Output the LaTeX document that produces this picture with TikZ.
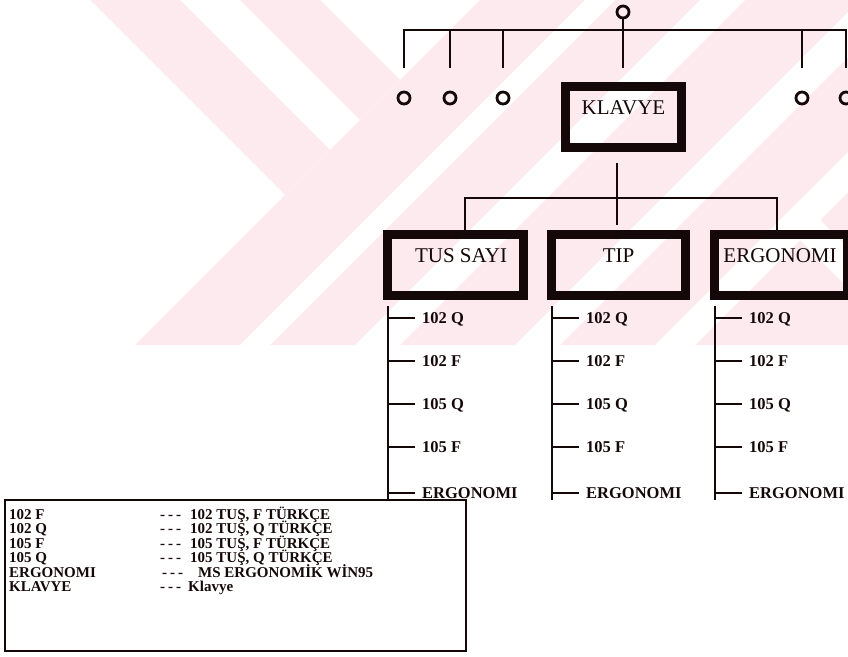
\documentclass[tikz,border=0pt]{standalone}
\usepackage{fontspec}
\setmainfont{Liberation Serif}
\definecolor{wm}{RGB}{252,234,238}
\definecolor{ink}{RGB}{20,8,8}
\begin{document}
\begin{tikzpicture}[x=1pt,y=-1pt,
  conn/.style={draw=ink,line width=2.6pt},
  ring/.style={circle,draw=ink,line width=2.8pt,minimum size=12pt,inner sep=0pt},
  thickbox/.style={draw=ink,line width=9pt,minimum height=61pt,inner sep=0pt},
  boxtext/.style={font=\fontsize{21}{21}\selectfont,inner sep=0pt,text=ink},
  item/.style={font=\fontsize{16.5}{16.5}\selectfont\bfseries,anchor=west,inner sep=0pt,text height=11pt,text depth=0pt,text=ink},
  legtext/.style={font=\fontsize{15}{15}\selectfont\bfseries,anchor=base west,inner sep=0pt,text=ink},
  legbox/.style={draw=ink,line width=1.8pt,inner sep=0pt}
]
\useasboundingbox (0,0) rectangle (848,656);
\begin{scope}
\clip (0,0) rectangle (848,656);
% watermark
\fill[wm] (480,0) -- (848,0) -- (848,345) -- (135,345) -- cycle;
\fill[wm] (90,0) -- (180,0) -- (330,150) -- (285,195) -- cycle;
\fill[wm] (240,0) -- (320,0) -- (400,80) -- (360,120) -- cycle;
\foreach \a/\b in {585/615,700/745,860/905,1000/1040}
  \fill[white] (\a,0) -- (\b,0) -- (\b-345,345) -- (\a-345,345) -- cycle;
\fill[white] (780,220) -- (800,200) -- (945,345) -- (905,345) -- cycle;

% top level
\node[ring] (c0) at (623,12) {};
\node[ring] (c1) at (404,98) {};
\node[ring] (c2) at (450,98) {};
\node[ring] (c3) at (503,98) {};
\node[ring] (c4) at (802,98) {};
\node[ring] (c5) at (846,98) {};
\coordinate (barY) at (0,30);
\coordinate (stubY) at (0,68);
\draw[conn] (c1 |- stubY) -- (c1 |- barY) -- (c5 |- barY) -- (c5 |- stubY);
\foreach \c in {c2,c3,c4}
  \draw[conn] (\c |- barY) -- (\c |- stubY);
\draw[conn] (c0.south) -- (c0 |- stubY);

\node[thickbox,minimum width=116pt] (klav) at (623.5,117) {};
\node[boxtext] (klavT) at (623.5,108) {KLAVYE};

% second level
\node[thickbox,minimum width=136pt] (tus) at (455.5,265) {};
\node[thickbox,minimum width=134pt] (tip) at (618.5,265) {};
\node[thickbox,minimum width=133pt] (erg) at (781,265) {};
\node[boxtext] (tusT) at (461,256) {TUS SAYI};
\node[boxtext] (tipT) at (618.5,256) {TIP};
\node[boxtext] (ergT) at (780,256) {ERGONOMI};

\coordinate (k1) at (617,163);
\coordinate (k2) at (617,225);
\draw[conn] (k1) -- (k2);
\coordinate (hl) at (465,198);
\coordinate (hr) at (777,198);
\draw[conn] (hl |- tus.north) -- (hl) -- (hr) -- (hr |- erg.north);

% lists
\foreach \n/\vx in {tus/388,tip/552,erg/715}{
  \coordinate (\n top) at (\vx,306);
  \coordinate (\n bot) at (\vx,500);
  \draw[conn] (\n top) -- (\n bot);
  \foreach \i/\y/\t in {1/318/102 Q,2/361/102 F,3/404/105 Q,4/447/105 F,5/493/ERGONOMI}{
    \node[item] (\n\i) at (\vx+34,\y) {\t};
    \draw[conn] (\n top |- \n\i.west) -- ([xshift=-7pt]\n\i.west);
  }
}

% legend
\node[legbox,minimum width=461.2pt,minimum height=151.2pt] (leg) at (235.5,575.5) {};
\node[legtext] (l1) at (9,519) {102 F};
\node[legtext] (l2) at (9,533.5) {102 Q};
\node[legtext] (l3) at (9,548) {105 F};
\node[legtext] (l4) at (9,562.5) {105 Q};
\node[legtext] (l5) at (9,577) {ERGONOMI};
\node[legtext] (l6) at (9,591.5) {KLAVYE};
\node[legtext] (d1) at (160,519) {-\hspace{3pt}-\hspace{3pt}-};
\node[legtext] (d2) at (160,533.5) {-\hspace{3pt}-\hspace{3pt}-};
\node[legtext] (d3) at (160,548) {-\hspace{3pt}-\hspace{3pt}-};
\node[legtext] (d4) at (160,562.5) {-\hspace{3pt}-\hspace{3pt}-};
\node[legtext] (d5) at (162,577) {-\hspace{3pt}-\hspace{3pt}-};
\node[legtext] (d6) at (160,591.5) {-\hspace{3pt}-\hspace{3pt}-};
\node[legtext] (r1) at (190,519) {102 TUŞ, F TÜRKÇE};
\node[legtext] (r2) at (190,533.5) {102 TUŞ, Q TÜRKÇE};
\node[legtext] (r3) at (190,548) {105 TUŞ, F TÜRKÇE};
\node[legtext] (r4) at (190,562.5) {105 TUŞ, Q TÜRKÇE};
\node[legtext] (r5) at (198,577) {MS ERGONOMİK WİN95};
\node[legtext] (r6) at (188,591.5) {Klavye};
\end{scope}
\end{tikzpicture}
\end{document}
